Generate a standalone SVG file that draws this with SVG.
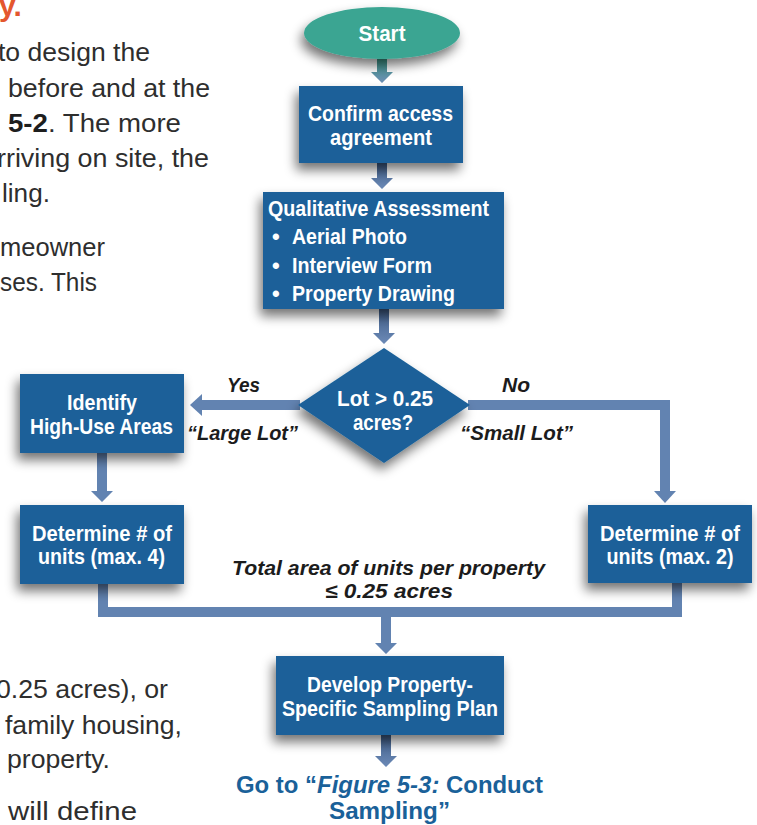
<svg xmlns="http://www.w3.org/2000/svg" width="757" height="825" viewBox="0 0 757 825">
<style>
.body{font-family:"Liberation Sans",Arial,sans-serif;font-size:26px;fill:#2e2e2e}
.hd{font-family:"Liberation Sans",Arial,sans-serif;font-size:30px;font-weight:bold;fill:#e4572e}
.node{fill:#1a6199}
.start{fill:#3aa592}
.nt{font-family:"Liberation Sans",Arial,sans-serif;font-size:22px;font-weight:bold;fill:#ffffff}
.lbl{font-family:"Liberation Sans",Arial,sans-serif;font-size:20px;font-weight:bold;font-style:italic;fill:#1c1c1c}
.conn{fill:none;stroke:#6283b1;stroke-width:10}
.flat{fill:#6283b1}
.go{font-family:"Liberation Sans",Arial,sans-serif;font-size:24px;font-weight:bold;fill:#1a6199}
</style>
<defs>
<filter id="sh" x="-30%" y="-30%" width="160%" height="180%">
<feGaussianBlur in="SourceAlpha" stdDeviation="6"/>
<feOffset dx="-3" dy="7"/>
<feComponentTransfer><feFuncA type="linear" slope="0.55"/></feComponentTransfer>
<feMerge><feMergeNode/><feMergeNode in="SourceGraphic"/></feMerge>
</filter>
<marker id="ah" viewBox="0 -11 12 22" refX="0" refY="0" markerWidth="12" markerHeight="22" markerUnits="userSpaceOnUse" orient="auto"><path d="M0,-11 L12,0 L0,11 z" fill="#6283b1"/></marker>
<linearGradient id="gT" x1="0" y1="0" x2="0" y2="1"><stop offset="0" stop-color="#3f9c8b"/><stop offset="1" stop-color="#6c8db4"/></linearGradient>
<linearGradient id="gB" x1="0" y1="0" x2="0" y2="1"><stop offset="0" stop-color="#3f5d87"/><stop offset="1" stop-color="#6c8ab7"/></linearGradient>
</defs>

<g id="bodytext">
<text class="hd" x="-1" y="16">y.</text>
<text class="body" x="-2" y="61" textLength="152" lengthAdjust="spacingAndGlyphs">to design the</text>
<text class="body" x="8" y="97" textLength="202" lengthAdjust="spacingAndGlyphs">before and at the</text>
<text class="body" x="8" y="132" textLength="173" lengthAdjust="spacingAndGlyphs"><tspan font-weight="bold" fill="#1e1e1e">5-2</tspan>. The more</text>
<text class="body" x="-3" y="167" textLength="212" lengthAdjust="spacingAndGlyphs">rriving on site, the</text>
<text class="body" x="2" y="202" textLength="48" lengthAdjust="spacingAndGlyphs">ling.</text>
<text class="body" x="0" y="256" textLength="105" lengthAdjust="spacingAndGlyphs">meowner</text>
<text class="body" x="0" y="291" textLength="97" lengthAdjust="spacingAndGlyphs">ses. This</text>
<text class="body" x="-4" y="698" textLength="172" lengthAdjust="spacingAndGlyphs">0.25 acres), or</text>
<text class="body" x="5" y="734" textLength="177" lengthAdjust="spacingAndGlyphs">family housing,</text>
<text class="body" x="7" y="768" textLength="103" lengthAdjust="spacingAndGlyphs">property.</text>
<text class="body" x="8" y="820" textLength="129" lengthAdjust="spacingAndGlyphs">will define</text>
</g>

<g id="connectors">
<polygon fill="url(#gT)" points="377,59 387,59 387,72 393,72 382,83 371,72 377,72"/>
<polygon fill="url(#gB)" points="377,163 387,163 387,178 393,178 382,189 371,178 377,178"/>
<polygon fill="url(#gB)" points="379,309 389,309 389,333 395,333 384,344 373,333 379,333"/>
<path class="conn" d="M300,405 H202" marker-end="url(#ah)"/>
<path class="conn" d="M468,405 H665 V491" marker-end="url(#ah)"/>
<polygon class="flat" points="97,453 107,453 107,491 113,491 102,502 91,491 97,491"/>
<path class="conn" d="M103,584 V612 H677 V583"/>
<polygon class="flat" points="381,616 391,616 391,643 397,643 386,654 375,643 381,643"/>
<polygon fill="url(#gB)" points="381,735 391,735 391,756 397,756 386,767 375,756 381,756"/>
</g>

<g id="start">
<ellipse class="start" cx="382" cy="33" rx="78" ry="26" filter="url(#sh)"/>
<text class="nt" x="382" y="41" text-anchor="middle" textLength="47" lengthAdjust="spacingAndGlyphs">Start</text>
</g>

<g id="confirm">
<rect class="node" x="299" y="86" width="164" height="77" filter="url(#sh)"/>
<text class="nt" x="380.5" y="121" text-anchor="middle" textLength="145" lengthAdjust="spacingAndGlyphs">Confirm access</text>
<text class="nt" x="381" y="145" text-anchor="middle" textLength="102" lengthAdjust="spacingAndGlyphs">agreement</text>
</g>

<g id="qualitative">
<rect class="node" x="263" y="192" width="241" height="117" filter="url(#sh)"/>
<text class="nt" x="268" y="216" textLength="221" lengthAdjust="spacingAndGlyphs">Qualitative Assessment</text>
<text class="nt" x="272" y="244">•</text>
<text class="nt" x="292" y="244" textLength="115" lengthAdjust="spacingAndGlyphs">Aerial Photo</text>
<text class="nt" x="272" y="273">•</text>
<text class="nt" x="292" y="273" textLength="140" lengthAdjust="spacingAndGlyphs">Interview Form</text>
<text class="nt" x="272" y="301">•</text>
<text class="nt" x="292" y="301" textLength="163" lengthAdjust="spacingAndGlyphs">Property Drawing</text>
</g>

<g id="decision">
<polygon class="node" points="384,348 470,405 384,463 298,405" filter="url(#sh)"/>
<text class="nt" x="385" y="406" text-anchor="middle" textLength="96" lengthAdjust="spacingAndGlyphs">Lot &gt; 0.25</text>
<text class="nt" x="383" y="430" text-anchor="middle" textLength="60" lengthAdjust="spacingAndGlyphs">acres?</text>
</g>

<g id="labels">
<text class="lbl" x="227" y="392" textLength="33" lengthAdjust="spacingAndGlyphs">Yes</text>
<text class="lbl" x="187" y="440" textLength="111" lengthAdjust="spacingAndGlyphs">“Large Lot”</text>
<text class="lbl" x="502" y="392" textLength="28" lengthAdjust="spacingAndGlyphs">No</text>
<text class="lbl" x="460" y="440" textLength="113" lengthAdjust="spacingAndGlyphs">“Small Lot”</text>
<text class="lbl" x="232" y="575" textLength="313" lengthAdjust="spacingAndGlyphs">Total area of units per property</text>
<text class="lbl" x="325" y="598" textLength="128" lengthAdjust="spacingAndGlyphs">≤ 0.25 acres</text>
</g>

<g id="identify">
<rect class="node" x="20" y="374" width="164" height="79" filter="url(#sh)"/>
<text class="nt" x="102" y="410" text-anchor="middle" textLength="70" lengthAdjust="spacingAndGlyphs">Identify</text>
<text class="nt" x="101.5" y="434" text-anchor="middle" textLength="143" lengthAdjust="spacingAndGlyphs">High-Use Areas</text>
</g>

<g id="determine4">
<rect class="node" x="20" y="505" width="164" height="79" filter="url(#sh)"/>
<text class="nt" x="102" y="541" text-anchor="middle" textLength="140" lengthAdjust="spacingAndGlyphs">Determine # of</text>
<text class="nt" x="101.5" y="564" text-anchor="middle" textLength="127" lengthAdjust="spacingAndGlyphs">units (max. 4)</text>
</g>

<g id="determine2">
<rect class="node" x="588" y="505" width="164" height="78" filter="url(#sh)"/>
<text class="nt" x="670" y="541" text-anchor="middle" textLength="140" lengthAdjust="spacingAndGlyphs">Determine # of</text>
<text class="nt" x="670" y="564" text-anchor="middle" textLength="127" lengthAdjust="spacingAndGlyphs">units (max. 2)</text>
</g>

<g id="develop">
<rect class="node" x="276" y="656" width="228" height="79" filter="url(#sh)"/>
<text class="nt" x="390" y="692" text-anchor="middle" textLength="166" lengthAdjust="spacingAndGlyphs">Develop Property-</text>
<text class="nt" x="390" y="716" text-anchor="middle" textLength="216" lengthAdjust="spacingAndGlyphs">Specific Sampling Plan</text>
</g>

<g id="goto">
<text class="go" x="236" y="793" textLength="307" lengthAdjust="spacingAndGlyphs">Go to “<tspan font-style="italic">Figure 5-3:</tspan> Conduct</text>
<text class="go" x="329" y="819" textLength="121" lengthAdjust="spacingAndGlyphs">Sampling”</text>
</g>
</svg>
